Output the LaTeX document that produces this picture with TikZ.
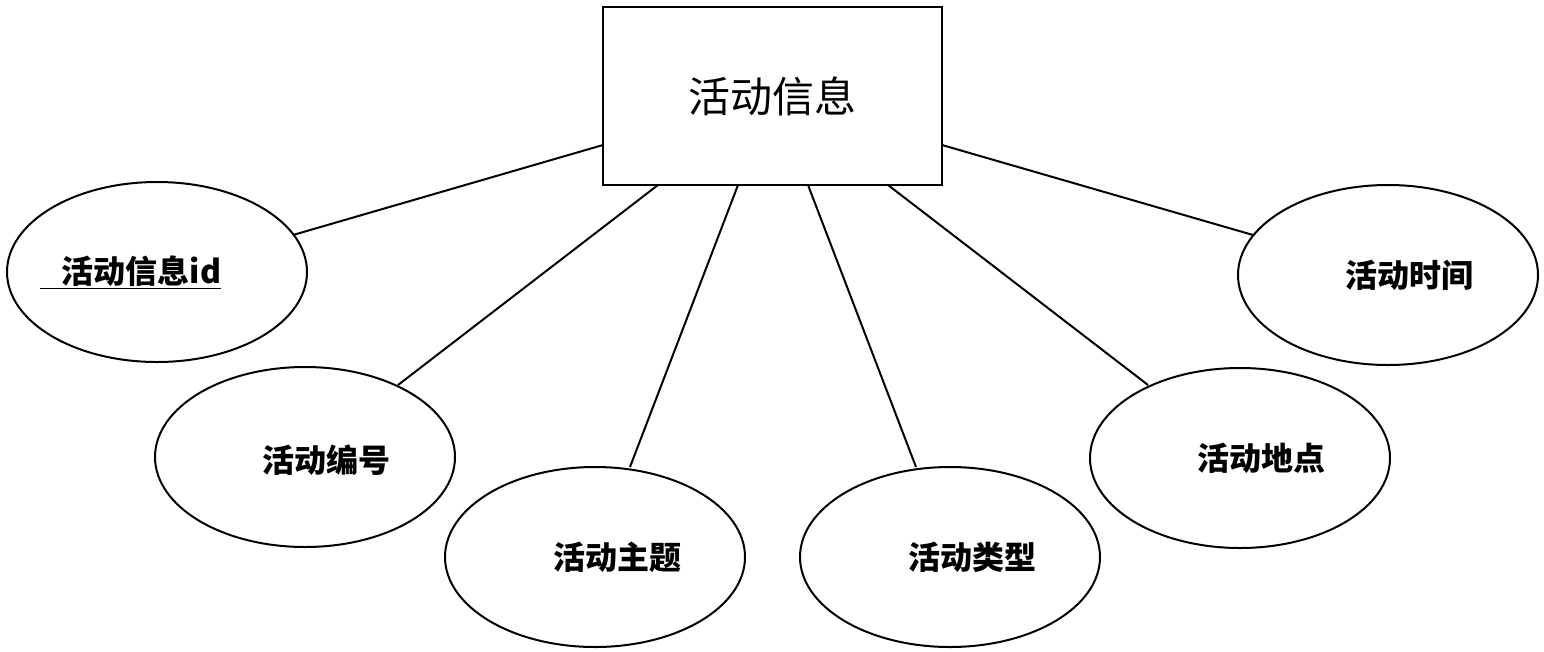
\documentclass[tikz,border=0pt]{standalone}
\usepackage{fontspec}
\newfontfamily\cjk{Noto Sans CJK SC}
\usetikzlibrary{calc,shapes.geometric}
\begin{document}
\begin{tikzpicture}[x=1pt,y=-1pt,
  attr/.style={draw,line width=2pt,ellipse,minimum width=300pt,minimum height=180pt,inner sep=0pt},
  lbl/.style={font=\cjk\bfseries\fontsize{32}{36}\selectfont},
  ln/.style={line width=2pt}]
\useasboundingbox (0,0) rectangle (1544,651);
\node[draw,line width=2pt,minimum width=339pt,minimum height=178pt,inner sep=0pt,font=\cjk\fontsize{42}{48}\selectfont] (r) at (772.5,96) {活动信息};
\node[attr] (e1) at (157,272) {};
\node[attr] (e2) at (305,457) {};
\node[attr] (e3) at (595,557) {};
\node[attr] (e4) at (950,557) {};
\node[attr] (e5) at (1240,458) {};
\node[attr] (e6) at (1388,275) {};
\node[lbl,anchor=west] (t1) at (36,272) {\underline{\phantom{活}\hspace{-0.3em}活动信息id}};
\node[lbl] (t2) at (326,460) {活动编号};
\node[lbl] (t3) at (617,557) {活动主题};
\node[lbl] (t4) at (972,557) {活动类型};
\node[lbl] (t5) at (1261,458) {活动地点};
\node[lbl] (t6) at (1409,275) {活动时间};
\coordinate (p1) at (603,145);
\coordinate (p2) at (658,185);
\coordinate (p3) at (738,185);
\coordinate (p4) at (808,185);
\coordinate (p5) at (888,185);
\coordinate (p6) at (942,145);
\coordinate (q1) at (293,235);
\coordinate (q2) at (398,385);
\coordinate (q3) at (630,467);
\coordinate (q4) at (916,467);
\coordinate (q5) at (1148,385);
\coordinate (q6) at (1253,235);
\foreach \i in {1,...,6} \draw[ln] (p\i) -- (q\i);
\end{tikzpicture}
\end{document}
